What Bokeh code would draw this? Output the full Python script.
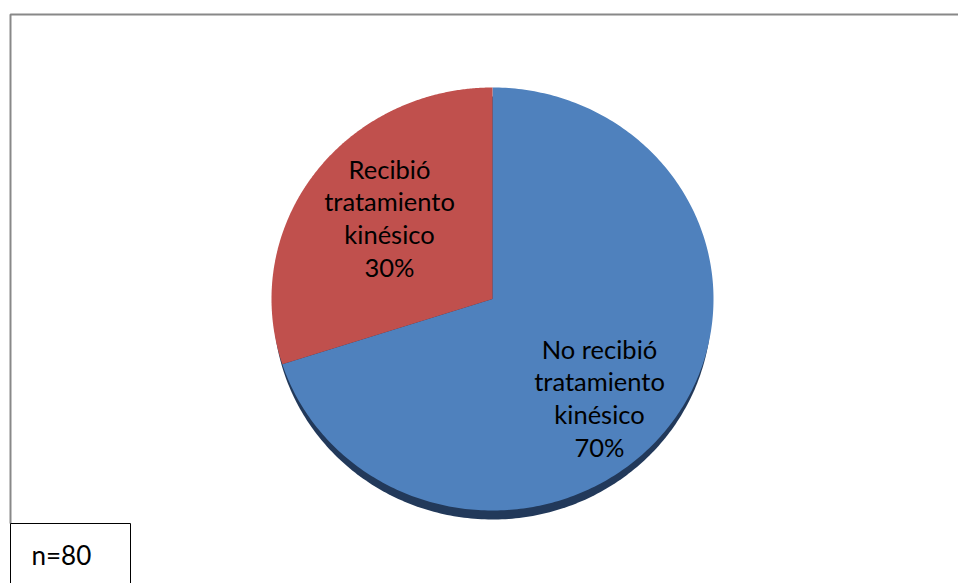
import numpy as np
from bokeh.plotting import figure
from bokeh.models import Range1d
from bokeh.core.properties import value
from bokeh.embed import file_html
from bokeh.resources import INLINE

# ---- data ----
categories = ["No recibió tratamiento kinésico", "Recibió tratamiento kinésico"]
values = [70, 30]
label_lines = [["No recibió", "tratamiento", "kinésico"],
               ["Recibió", "tratamiento", "kinésico"]]
sample_note = "n=80"

# ---- style / layout ----
colors = ["#4F81BD", "#C0504D"]
rim_color = "#22395A"
FONT = "Lato"
W, H = 958, 583
cx, cy = 492, 298.5
rx, ry = 221, 211.5
rim_drop = 9
label_pos = [(599, 348), (389, 168)]   # first-line centre for each label
line_step = 32.7

p = figure(width=W, height=H, output_backend="svg", toolbar_location=None,
           x_range=Range1d(0, W), y_range=Range1d(H, 0),
           x_axis_location=None, y_axis_location=None, min_border=0)
p.outline_line_color = None
p.xgrid.visible = False
p.ygrid.visible = False
p.background_fill_color = "white"
p.border_fill_color = "white"

# chart frame (top and left edges visible)
p.line([10, 10, W + 5], [523, 14, 14], line_color="#888888", line_width=2)

# 3D rim under pie
t = np.linspace(0, 2 * np.pi, 400)
p.patch(cx + (rx - 2) * np.cos(t), cy + rim_drop - ry * np.sin(t),
        fill_color=rim_color, line_color=None)

# slices: start at 12 o'clock, clockwise
total = float(sum(values))
cum = 0.0
for v, col in zip(values, colors):
    a0 = np.pi / 2 - 2 * np.pi * cum / total
    a1 = np.pi / 2 - 2 * np.pi * (cum + v) / total
    cum += v
    ang = np.linspace(a0, a1, 300)
    xs = np.concatenate([[cx], cx + rx * np.cos(ang)])
    ys = np.concatenate([[cy], cy - ry * np.sin(ang)])
    p.patch(xs, ys, fill_color=col, line_color=None)

# labels
for lines, v, (lx, ly) in zip(label_lines, values, label_pos):
    all_lines = lines + [f"{v}%"]
    p.text(x=[lx] * len(all_lines),
           y=[ly + i * line_step for i in range(len(all_lines))],
           text=all_lines, text_font=value(FONT), text_font_size="25.5px",
           text_align="center", text_baseline="middle", text_color="#000000")

# n=80 box
p.quad(left=[10], right=[130], top=[523], bottom=[H + 5],
       fill_color="white", line_color="black", line_width=1)
p.text(x=[31], y=[554], text=[sample_note], text_font=value(FONT),
       text_font_size="26px", text_align="left", text_baseline="middle",
       text_color="#000000")

open("out.html", "w").write(file_html(p, INLINE))
